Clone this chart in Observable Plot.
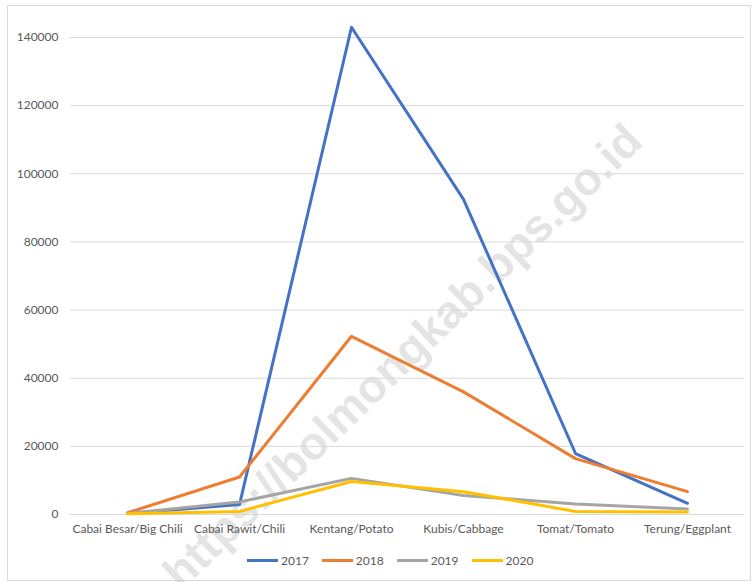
<!DOCTYPE html>
<html>
<head>
<meta charset="utf-8">
<script src="https://cdn.jsdelivr.net/npm/d3@7"></script>
<script src="https://cdn.jsdelivr.net/npm/@observablehq/plot@0.6"></script>
<style>
  html, body { margin: 0; padding: 0; background: #fff; }
  #wrap { position: relative; width: 754px; height: 582px; overflow: hidden; font-family: Lato, "Liberation Sans", sans-serif; }
  #frame { position: absolute; left: 7px; top: 5px; width: 744px; height: 576px; border: 1px solid #d9d9d9; box-sizing: border-box; }
  #wm { position: absolute; left: 402px; top: 356px; transform: translate(-50%, -50%) rotate(-44deg); font: bold 46px "Liberation Sans", Arial, sans-serif; color: rgba(190,190,190,0.42); white-space: nowrap; pointer-events: none; }
  #chart { position: absolute; left: 0; top: 0; }
  #legend { position: absolute; left: 247px; top: 553px; display: flex; gap: 13px; font-size: 12px; color: #595959; }
  .item { display: flex; align-items: center; }
  .sw { width: 31px; height: 3px; margin-right: 3px; }
</style>
</head>
<body>
<div id="wrap">
  <div id="frame"></div>
  <div id="wm">https://bolmongkab.bps.go.id</div>
  <div id="chart"></div>
  <div id="legend"></div>
</div>
<script>
const categories = ["Cabai Besar/Big Chili", "Cabai Rawit/Chili", "Kentang/Potato", "Kubis/Cabbage", "Tomat/Tomato", "Terung/Eggplant"];
const years = ["2017", "2018", "2019", "2020"];
const v2017 = [300, 2900, 143000, 92500, 17900, 3300];
const v2018 = [500, 11000, 52300, 36000, 16400, 6700];
const v2019 = [300, 3700, 10600, 5600, 3100, 1600];
const v2020 = [200, 900, 9700, 6700, 900, 700];
const yTicks = [0, 20000, 40000, 60000, 80000, 100000, 120000, 140000];
const colors = ["#4472C4", "#ED7D31", "#A5A5A5", "#FFC000"];

const seriesValues = [v2017, v2018, v2019, v2020];
const data = [];
years.forEach((yr, i) => categories.forEach((c, j) => data.push({year: yr, cat: c, value: seriesValues[i][j]})));

const plot = Plot.plot({
  width: 754,
  height: 540,
  marginLeft: 70,
  marginRight: 10,
  marginTop: 37,
  marginBottom: 26,
  style: {fontFamily: "Lato, 'Liberation Sans', sans-serif", fontSize: "12px", color: "#595959", background: "transparent", overflow: "visible"},
  x: {type: "point", domain: categories, padding: 0.5, label: null},
  y: {domain: [0, 140000], label: null},
  color: {domain: years, range: colors},
  marks: [
    Plot.gridY(yTicks, {stroke: "#d9d9d9", strokeOpacity: 1, strokeWidth: 1}),
    Plot.axisY(yTicks, {tickSize: 0, tickPadding: 12, tickFormat: d3.format("d"), fill: "#595959", fontSize: 12}),
    Plot.axisX({tickSize: 0, tickPadding: 10, fill: "#595959", fontSize: 12}),
    Plot.line(data, {x: "cat", y: "value", z: "year", stroke: "year", strokeWidth: 3, strokeLinejoin: "round", strokeLinecap: "round"})
  ]
});
document.getElementById("chart").appendChild(plot);

const legend = document.getElementById("legend");
years.forEach((yr, i) => {
  const it = document.createElement("div");
  it.className = "item";
  const sw = document.createElement("div");
  sw.className = "sw";
  sw.style.background = colors[i];
  const t = document.createElement("span");
  t.textContent = yr;
  it.appendChild(sw); it.appendChild(t);
  legend.appendChild(it);
});
</script>
</body>
</html>
